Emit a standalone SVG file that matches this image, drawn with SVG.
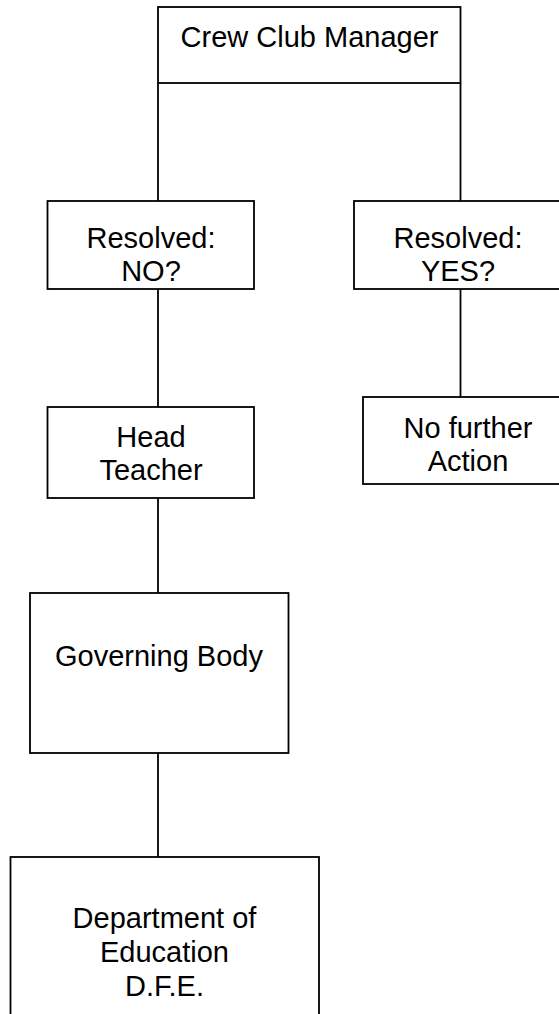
<svg xmlns="http://www.w3.org/2000/svg" width="559" height="1014" viewBox="0 0 559 1014">
<style>
.box{fill:#fff;stroke:#000;stroke-width:1.8}
.con{fill:none;stroke:#000;stroke-width:1.8}
text{font-family:"Liberation Sans",Arial,sans-serif;font-size:29px;fill:#000;text-anchor:middle}
</style>
<rect width="559" height="1014" fill="#fff"/>
<g id="connectors">
<line class="con" x1="158" y1="83" x2="158" y2="201"/>
<line class="con" x1="460.5" y1="83" x2="460.5" y2="201"/>
<line class="con" x1="158" y1="289" x2="158" y2="407"/>
<line class="con" x1="460.5" y1="289" x2="460.5" y2="397"/>
<line class="con" x1="158" y1="498" x2="158" y2="593"/>
<line class="con" x1="158" y1="753" x2="158" y2="857"/>
</g>
<g id="crew-club-manager">
<rect class="box" x="158" y="7" width="302.5" height="76"/>
<text x="309.5" y="47">Crew Club Manager</text>
</g>
<g id="resolved-no">
<rect class="box" x="47.5" y="201" width="206.5" height="88"/>
<text x="151" y="248">Resolved:</text>
<text x="151" y="281">NO?</text>
</g>
<g id="resolved-yes">
<rect class="box" x="354" y="201" width="212" height="88"/>
<text x="458" y="248">Resolved:</text>
<text x="458" y="281">YES?</text>
</g>
<g id="head-teacher">
<rect class="box" x="47.5" y="407" width="206.5" height="91"/>
<text x="151" y="447">Head</text>
<text x="151" y="480">Teacher</text>
</g>
<g id="no-further-action">
<rect class="box" x="363" y="397" width="210" height="87"/>
<text x="468" y="438">No further</text>
<text x="468" y="471">Action</text>
</g>
<g id="governing-body">
<rect class="box" x="30" y="593" width="258.5" height="160"/>
<text x="159" y="666">Governing Body</text>
</g>
<g id="dfe">
<rect class="box" x="10.5" y="857" width="308.5" height="170"/>
<text x="164.5" y="928">Department of</text>
<text x="164.5" y="962">Education</text>
<text x="164.5" y="996">D.F.E.</text>
</g>
</svg>
